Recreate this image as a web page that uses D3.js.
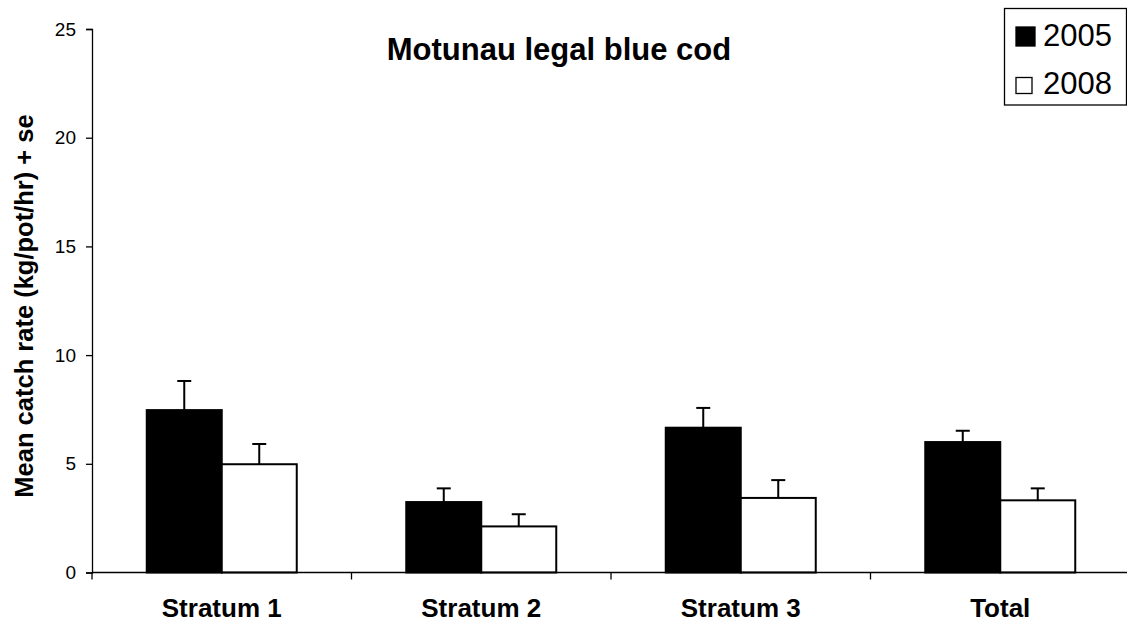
<!DOCTYPE html>
<html><head><meta charset="utf-8">
<script src="https://cdn.jsdelivr.net/npm/d3@7"></script>
<style>body{margin:0;background:#fff}svg{display:block}text{font-family:"Liberation Sans",Arial,sans-serif;fill:#000}</style>
</head><body><svg id="c" width="1127" height="626"></svg>
<script>
const categories = ["Stratum 1", "Stratum 2", "Stratum 3", "Total"];
const series = ["2005", "2008"];
const values2005 = [7.47, 3.24, 6.66, 6.0];
const se2005 = [1.34, 0.63, 0.91, 0.52];
const values2008 = [4.98, 2.12, 3.43, 3.32];
const se2008 = [0.93, 0.56, 0.82, 0.55];
const yTicks = [0, 5, 10, 15, 20, 25];
const fills = ["#000000", "#ffffff"];

const svg = d3.select("#c");
const x0 = 92, x1 = 1130, yBot = 572.5, yTop = 29;
const x = d3.scaleBand().domain(categories).range([x0, x1]).padding(0);
const y = d3.scaleLinear().domain([0, 25]).range([yBot, yTop]);
const barW = 75;
const sub = d3.scaleBand().domain(series).range([0, barW * 2]);

const data = [];
categories.forEach((c, i) => {
  data.push({c, s: "2005", v: values2005[i], e: se2005[i]});
  data.push({c, s: "2008", v: values2008[i], e: se2008[i]});
});
const bx = d => x(d.c) + x.bandwidth() / 2 - barW + sub(d.s);

// error bars
const eb = svg.append("g");
data.forEach(d => {
  const cx = bx(d) + barW / 2;
  eb.append("line").attr("x1", cx).attr("x2", cx).attr("y1", y(d.v)).attr("y2", y(d.v + d.e)).attr("stroke", "#000").attr("stroke-width", 2);
  eb.append("line").attr("x1", cx - 7).attr("x2", cx + 7).attr("y1", y(d.v + d.e)).attr("y2", y(d.v + d.e)).attr("stroke", "#000").attr("stroke-width", 2);
});

svg.append("g").selectAll("rect").data(data).join("rect")
  .attr("x", bx).attr("width", barW)
  .attr("y", d => y(d.v)).attr("height", d => yBot - y(d.v))
  .attr("fill", d => fills[series.indexOf(d.s)])
  .attr("stroke", "#000").attr("stroke-width", 2);

// y axis
const ya = svg.append("g").attr("transform", `translate(${x0},0)`)
  .call(d3.axisLeft(y).tickValues(yTicks).tickSize(6).tickPadding(10).tickFormat(d3.format("d")));
ya.attr("font-size", null).attr("font-family", null);
ya.select(".domain").attr("stroke-width", 1.3);
ya.selectAll(".tick line").attr("stroke-width", 1.3);
ya.selectAll("text").style("font-size", "19px");

// x axis
const xa = svg.append("g").attr("transform", `translate(0,${yBot})`);
xa.append("line").attr("x1", x0).attr("x2", 1127).attr("y1", 0).attr("y2", 0).attr("stroke", "#000").attr("stroke-width", 1.3);
const bounds = categories.map(c => x(c)).concat([x1]);
xa.selectAll("line.tk").data(bounds).join("line").attr("class", "tk")
  .attr("x1", d => d).attr("x2", d => d).attr("y1", 0).attr("y2", 7).attr("stroke", "#000").attr("stroke-width", 1.3);
xa.selectAll("text").data(categories).join("text")
  .attr("x", d => x(d) + x.bandwidth() / 2).attr("y", 44)
  .attr("text-anchor", "middle").style("font-size", "26px").style("font-weight", "bold").text(d => d);

// title
svg.append("text").attr("x", 559).attr("y", 60).attr("text-anchor", "middle")
  .style("font-size", "31px").style("font-weight", "bold").text("Motunau legal blue cod");

// y title
svg.append("text").attr("transform", "translate(33,306) rotate(-90)").attr("text-anchor", "middle")
  .style("font-size", "25.5px").style("font-weight", "bold").text("Mean catch rate (kg/pot/hr) + se");

// legend
const lg = svg.append("g");
lg.append("rect").attr("x", 1004.5).attr("y", 8.5).attr("width", 122).attr("height", 96.5).attr("fill", "#fff").attr("stroke", "#000").attr("stroke-width", 1.3);
series.forEach((s, i) => {
  const yy = 46 + i * 47.5;
  lg.append("rect").attr("x", 1016).attr("y", yy - 19 + (i ? 3 : 0)).attr("width", i ? 16 : 19).attr("height", i ? 16 : 19)
    .attr("fill", fills[i]).attr("stroke", "#000").attr("stroke-width", 1.3);
  lg.append("text").attr("x", 1043).attr("y", yy).style("font-size", "31px").text(s);
});
</script></body></html>
